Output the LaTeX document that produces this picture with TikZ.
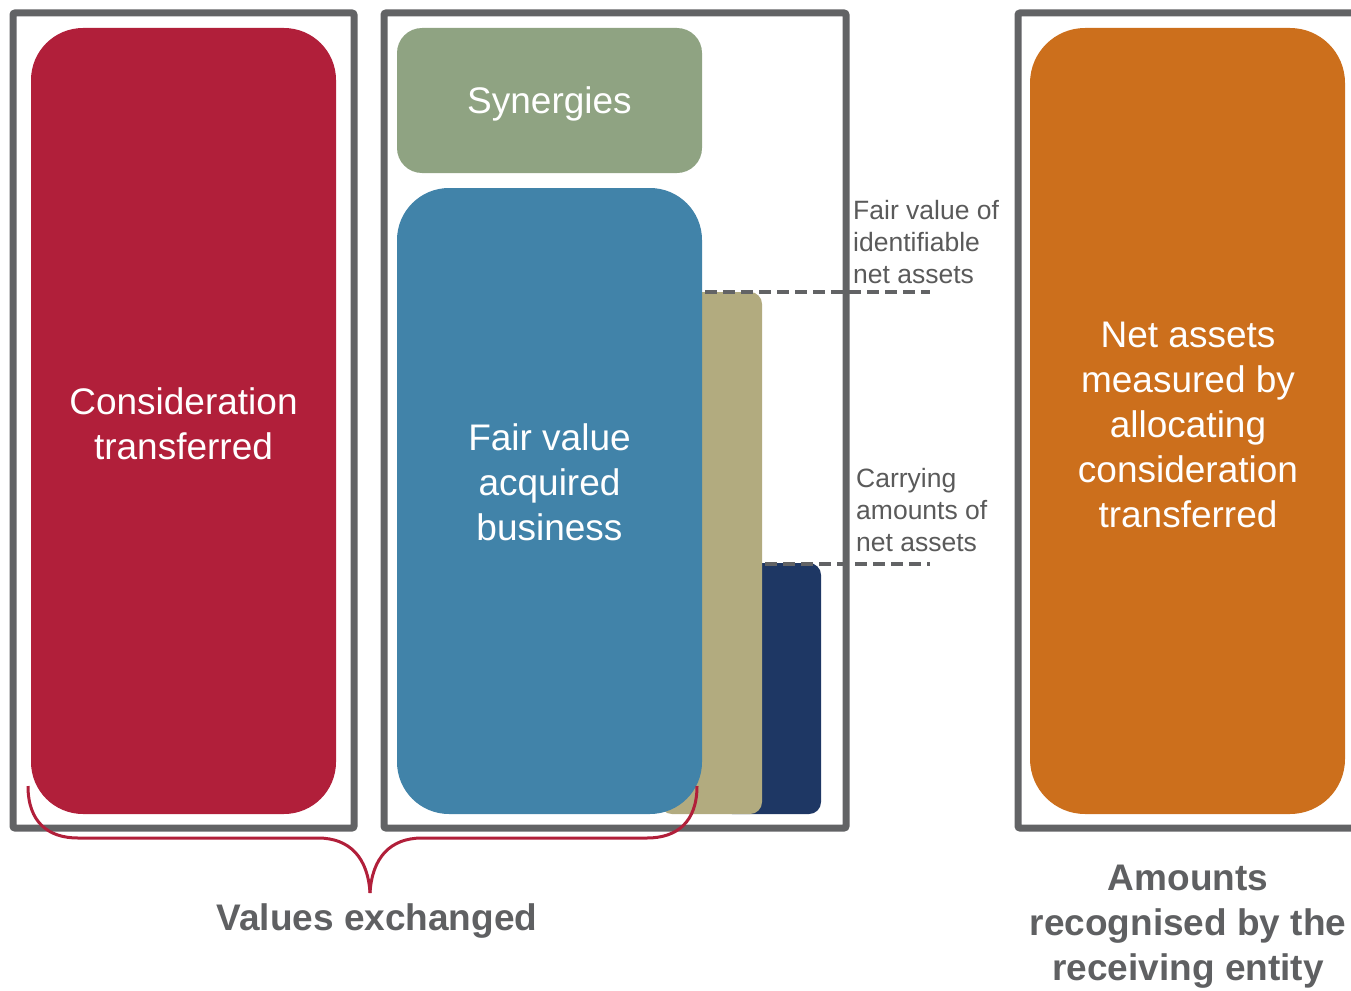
\documentclass[tikz,border=0pt]{standalone}
\usepackage{fontspec}
\setmainfont{Liberation Sans}
\definecolor{frameg}{HTML}{626365}
\definecolor{cred}{HTML}{B11F3A}
\definecolor{csyn}{HTML}{8FA382}
\definecolor{cblue}{HTML}{4183A9}
\definecolor{ctan}{HTML}{B2AB7F}
\definecolor{cnavy}{HTML}{1E3764}
\definecolor{corange}{HTML}{CC6F1C}
\definecolor{ctxt}{HTML}{5A5A5A}
\definecolor{cbold}{HTML}{5F6062}
\begin{document}
\begin{tikzpicture}[x=1pt,y=-1pt,
  box/.style={inner sep=0pt, outer sep=0pt, text=white, align=center, font=\fontsize{37}{45}\selectfont},
  txt/.style={inner sep=0pt, outer sep=0pt, text=white, align=center, font=\fontsize{37}{45}\selectfont},
  frm/.style={draw=frameg, line width=7pt, rounded corners=2pt},
  dline/.style={draw=frameg, line width=4pt, dash pattern=on 12pt off 6pt},
  side/.style={inner sep=0pt, align=left, text=ctxt, font=\fontsize{26.5}{32}\selectfont},
  boldlab/.style={inner sep=0pt, align=center, text=cbold, font=\bfseries\fontsize{37}{45}\selectfont},
  brace/.style={draw=cred, line width=3pt}]
\useasboundingbox (0,0) rectangle (1351,990);
\clip (0,0) rectangle (1351,990);
% boxes
\node[box, fill=cred, minimum width=305pt, minimum height=786pt, rounded corners=52pt] (red) at (183.5,421) {};
\node[box, fill=csyn, minimum width=305pt, minimum height=145pt, rounded corners=25pt] (syn) at (549.5,100.5) {};
\node[box, fill=cnavy, minimum width=101pt, minimum height=251pt, rounded corners=12pt] (navy) at (770.5,688.5) {};
\node[box, fill=ctan, minimum width=102pt, minimum height=522pt, rounded corners=12pt] (tan) at (711,553) {};
\node[box, fill=cblue, minimum width=305pt, minimum height=626pt, rounded corners=52pt] (blue) at (549.5,501) {};
\node[box, fill=corange, minimum width=315pt, minimum height=786pt, rounded corners=55pt] (orange) at (1187.5,421) {};
% box texts
\node[txt] (redtext) at (183.5,424) {Consideration\\transferred};
\node[txt] (syntext) at (549.5,104) {Synergies};
\node[txt] (bluetext) at (549.5,482) {Fair value\\acquired\\business};
\node[txt] (orangetext) at (1188,425) {Net assets\\measured by\\allocating\\consideration\\transferred};
% dashed lines
\coordinate (d1a) at (705,292);
\coordinate (d1b) at (930,292);
\coordinate (d2a) at (765,564);
\coordinate (d2b) at (930,564);
\draw[dline] (d1a) -- (d1b);
\draw[dline] (d2a) -- (d2b);
% frames
\draw[frm] (13,13) rectangle (354,828);
\draw[frm] (384,13) rectangle (846,828);
\draw[frm] (1018,13) rectangle (1400,828);
% side labels
\node[side, anchor=west] (fvlab) at (853,242) {Fair value of\\identifiable\\net assets};
\node[side, anchor=west] (calab) at (856,510) {Carrying\\amounts of\\net assets};
% brace
\coordinate (bl) at (28,786);
\coordinate (br) at (697,786);
\coordinate (bt) at (370,893);
\draw[brace] (bl) .. controls (28,822) and (48,838) .. (78,838) -- (318,838)
  .. controls (350,838) and (368,858) .. (bt);
\draw[brace] (br) .. controls (697,822) and (677,838) .. (647,838) -- (422,838)
  .. controls (390,838) and (372,858) .. (bt);
% bottom labels
\node[boldlab] (vex) at (377,921) {Values exchanged};
\node[boldlab] (amr) at (1188,927) {Amounts\\recognised by the\\receiving entity};
\end{tikzpicture}
\end{document}
